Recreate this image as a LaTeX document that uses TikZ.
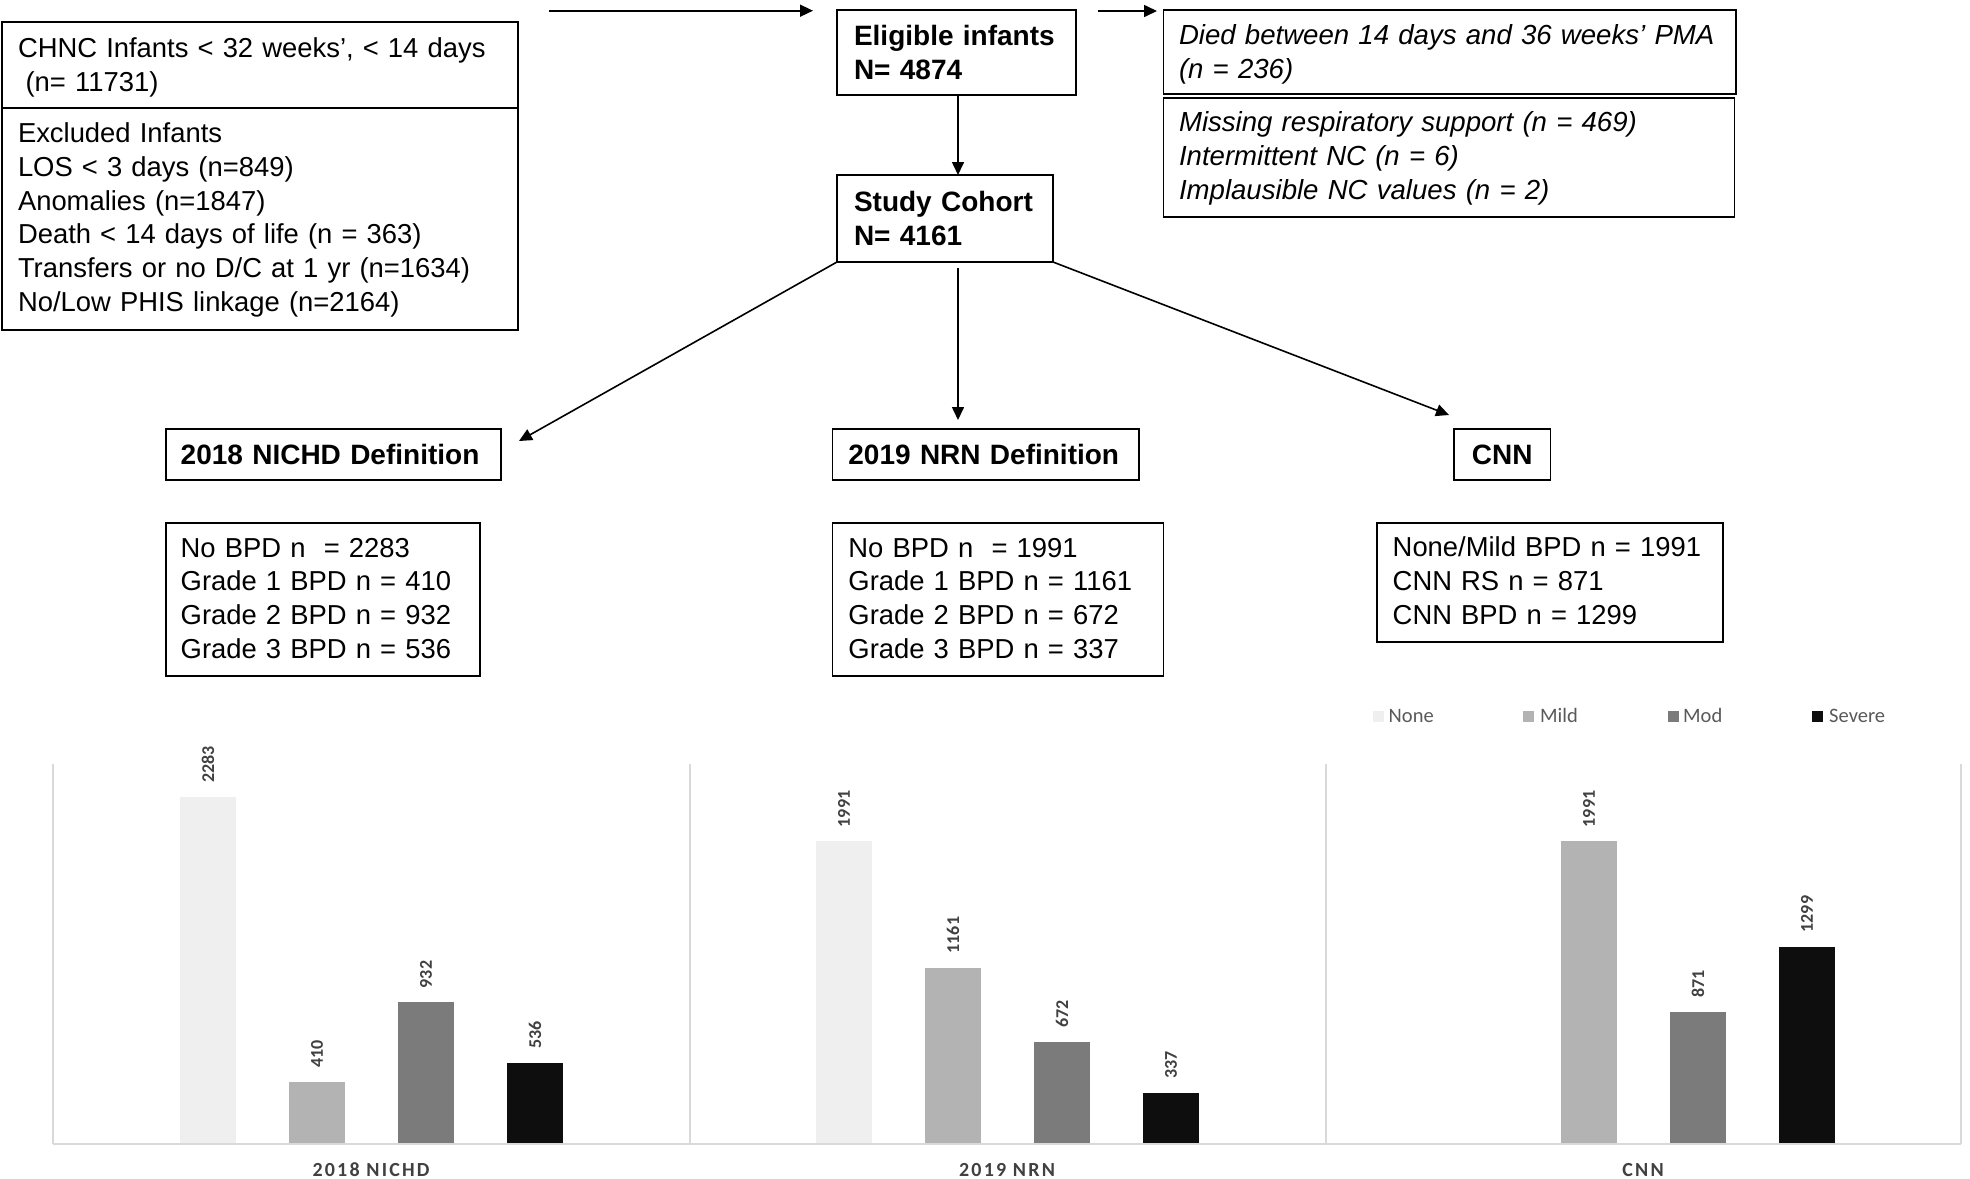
\documentclass[tikz,border=0pt]{standalone}
\usepackage{fontspec}
\setmainfont{Liberation Sans}
\newfontfamily\carlito{Carlito}
\newfontfamily\carlitosp[LetterSpace=11]{Carlito}
\usetikzlibrary{arrows.meta}
\setlength{\parindent}{0pt}
\newcommand{\fsr}{\fontsize{27.4pt}{33.7pt}\selectfont}
\newcommand{\fsi}{\fontsize{27.6pt}{33.7pt}\selectfont\itshape}
\newcommand{\fsb}{\fontsize{28pt}{33.7pt}\selectfont\bfseries}
\newcommand{\ms}{\rule[-8.5pt]{0pt}{33.5pt}}
\newcommand{\mt}{\rule[-7pt]{0pt}{33.5pt}}
\newcommand{\fl}[1]{\ms\mbox{#1}}
\newcommand{\fm}[1]{\mt\mbox{#1}}
\definecolor{cnone}{HTML}{EFEFEF}
\definecolor{cmild}{HTML}{B3B3B3}
\definecolor{cmod}{HTML}{7B7B7B}
\definecolor{csev}{HTML}{0E0E0E}
\definecolor{labgray}{HTML}{404040}
\definecolor{leggray}{HTML}{595959}
\definecolor{framegray}{HTML}{D9D9D9}
\newcommand{\chartbar}[4]{%
  \fill[#4] (#2-28,1144) rectangle (#2+28,{1144-0.152*#3});
  \node[vlab] (#1) at (#2,{1144-0.152*#3-14}) {#3};
}
\tikzset{
  fbox/.style={draw, line width=1.8pt, anchor=north west, outer sep=0pt,
    inner ysep=0pt, align=left, font=\fsr},
  arr/.style={-{Triangle[length=13pt,width=12pt]}, line width=1.6pt},
  vlab/.style={rotate=90, anchor=west, inner sep=0pt, text=labgray,
    font=\carlito\bfseries\fontsize{18pt}{20pt}\selectfont},
  leg/.style={anchor=base west, inner sep=0pt, text=leggray,
    font=\carlito\fontsize{20.5pt}{22pt}\selectfont},
  cat/.style={anchor=base, inner sep=0pt, text=labgray,
    font=\carlitosp\bfseries\fontsize{20pt}{22pt}\selectfont},
  axisline/.style={draw=framegray, line width=2pt},
}
\begin{document}
\begin{tikzpicture}[x=1pt,y=-1pt]
\useasboundingbox (0,0) rectangle (1970,1178);

% ---- flowchart boxes ----
\node[fbox, inner xsep=16pt, minimum width=516pt, text width=484pt, minimum height=86pt] (chnc) at (2,21.7)
  {\fm{CHNC Infants < 32 weeks’, < 14 days}\\\fm{\hspace*{7.6pt}(n= 11731)}};
\node[fbox, inner xsep=16pt, minimum width=516pt, text width=484pt, minimum height=222.3pt] (excl) at (2,107.7)
  {\fl{Excluded Infants}\\\fl{LOS < 3 days (n=849)}\\\fl{Anomalies (n=1847)}\\\fl{Death < 14 days of life (n = 363)}\\\fl{Transfers or no D/C at 1 yr (n=1634)}\\\fl{No/Low PHIS linkage (n=2164)}};

\node[fbox, font=\fsb, inner xsep=17pt, minimum width=239pt, text width=205pt, minimum height=85pt] (elig) at (837,10)
  {\fm{Eligible infants}\\\fm{N= 4874}};
\node[fbox, font=\fsi, inner xsep=15.5pt, minimum width=572.5pt, text width=541.5pt, minimum height=84pt] (died) at (1163.5,10)
  {\fm{Died between 14 days and 36 weeks’ PMA}\\\fm{(n = 236)}};
\node[fbox, font=\fsi, inner xsep=15.5pt, minimum width=571pt, text width=540pt, minimum height=119.3pt] (miss) at (1163.5,97.7)
  {\fl{Missing respiratory support (n = 469)}\\\fl{Intermittent NC (n = 6)}\\\fl{Implausible NC values (n = 2)}};

\node[fbox, font=\fsb, inner xsep=17pt, minimum width=216pt, text width=182pt, minimum height=87pt] (study) at (837,175)
  {\fm{Study Cohort}\\\fm{N= 4161}};

\node[fbox, font=\fsb, inner xsep=14.7pt, minimum width=334.6pt, text width=305.2pt, minimum height=51pt] (nichd) at (166,429)
  {\fm{2018 NICHD Definition}};
\node[fbox, font=\fsb, inner xsep=16pt, minimum width=306.6pt, text width=274.6pt, minimum height=51pt] (nrn) at (832.4,429)
  {\fm{2019 NRN Definition}};
\node[fbox, font=\fsb, align=center, inner xsep=10pt, minimum width=96.5pt, text width=76.5pt, minimum height=51pt] (cnn) at (1454,429)
  {\fm{CNN}};

\node[fbox, inner xsep=14.7pt, minimum width=314pt, text width=284.6pt, minimum height=153.3pt] (nichdlist) at (166,522.7)
  {\fl{No BPD n\ \ = 2283}\\\fl{Grade 1 BPD n = 410}\\\fl{Grade 2 BPD n = 932}\\\fl{Grade 3 BPD n = 536}};
\node[fbox, inner xsep=16pt, minimum width=331.1pt, text width=299pt, minimum height=153.3pt] (nrnlist) at (832.4,522.7)
  {\fl{No BPD n\ \ = 1991}\\\fl{Grade 1 BPD n = 1161}\\\fl{Grade 2 BPD n = 672}\\\fl{Grade 3 BPD n = 337}};
\node[fbox, inner xsep=15.7pt, minimum width=346pt, text width=314.6pt, minimum height=119pt] (cnnlist) at (1377,522.7)
  {\fl{None/Mild BPD n = 1991}\\\fl{CNN RS n = 871}\\\fl{CNN BPD n = 1299}};

% ---- connectors ----
\coordinate (t0) at (549,10.7);
\draw[arr] (t0) -- ([xshift=-24pt,yshift=-0.7pt]elig.north west);
\draw[arr] ([xshift=22pt,yshift=-1pt]elig.north east) -- ([xshift=-6.5pt,yshift=-1pt]died.north west);
\draw[arr] ([xshift=1.5pt]elig.south) -- ([xshift=13pt]study.north);
\draw[arr] (study.south west) -- ([xshift=18.4pt,yshift=-12pt]nichd.north east);
\draw[arr] ([xshift=13pt,yshift=-6pt]study.south) -- ([xshift=-27.7pt,yshift=9pt]nrn.north);
\draw[arr] (study.south east) -- ([xshift=-5pt,yshift=14pt]cnn.north west);

% ---- chart frame ----
\draw[axisline] (53,764) -- (53,1144);
\draw[axisline] (689.5,764) -- (689.5,1144);
\draw[axisline] (1325.5,764) -- (1325.5,1144);
\draw[axisline] (1961,764) -- (1961,1144);

% ---- bars ----
\chartbar{v1}{208}{2283}{cnone}
\chartbar{v2}{317}{410}{cmild}
\chartbar{v3}{426}{932}{cmod}
\chartbar{v4}{535}{536}{csev}
\chartbar{v5}{844}{1991}{cnone}
\chartbar{v6}{953}{1161}{cmild}
\chartbar{v7}{1062}{672}{cmod}
\chartbar{v8}{1171}{337}{csev}
\chartbar{v9}{1589}{1991}{cmild}
\chartbar{v10}{1698}{871}{cmod}
\chartbar{v11}{1807}{1299}{csev}

\draw[axisline] (53,1144) -- (1961,1144);

% ---- legend ----
\fill[cnone] (1373,710.5) rectangle (1384,721.5);
\node[leg] (lnone) at (1388.5,722) {None};
\fill[cmild] (1523,710.5) rectangle (1534,721.5);
\node[leg] (lmild) at (1540,722) {Mild};
\fill[cmod] (1667.5,710.5) rectangle (1678.5,721.5);
\node[leg] (lmod) at (1683,722) {Mod};
\fill[csev] (1812,710.5) rectangle (1823,721.5);
\node[leg] (lsev) at (1829,722) {Severe};

% ---- category labels ----
\node[cat] (c1) at (371,1176) {2018 NICHD};
\node[cat] (c2) at (1007,1176) {2019 NRN};
\node[cat] (c3) at (1643,1176) {CNN};
\end{tikzpicture}
\end{document}
